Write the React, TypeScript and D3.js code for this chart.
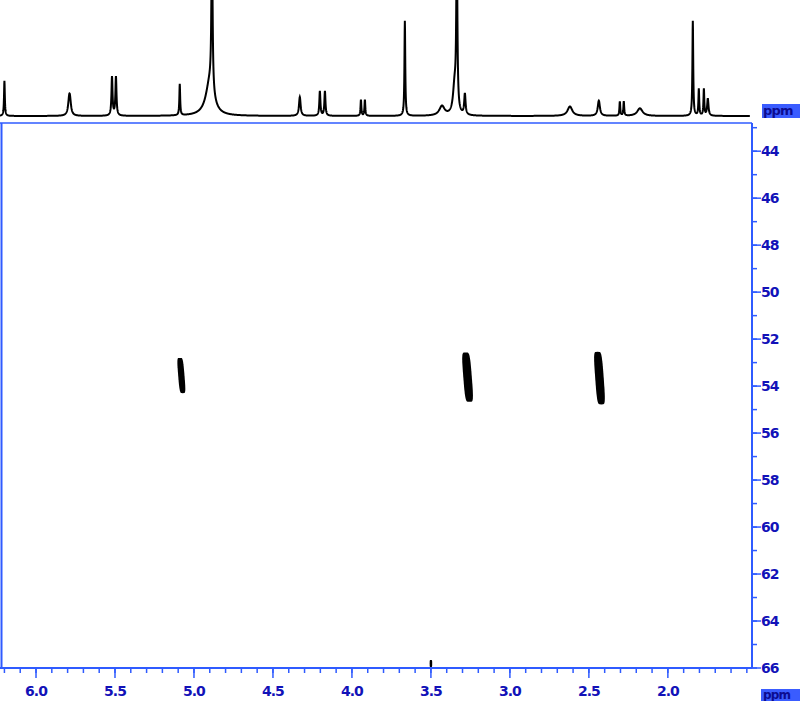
import React, { useMemo } from "react";
import * as d3 from "d3";

// 1D proton projection: peak positions (ppm), heights (relative), half-widths (ppm)
const PEAK_PPM = [6.2, 5.79, 5.785, 5.519, 5.494, 5.09, 4.886, 4.9, 4.33, 4.203, 4.171, 3.943, 3.918, 3.665, 3.43, 3.336, 3.35, 3.285, 2.62, 2.437, 2.304, 2.279, 2.177, 1.842, 1.804, 1.772, 1.747];
const PEAK_HEIGHT = [0.37, 0.14, 0.12, 0.41, 0.41, 0.33, 1.8, 0.35, 0.2, 0.26, 0.26, 0.17, 0.17, 1.0, 0.1, 1.8, 0.3, 0.22, 0.1, 0.16, 0.15, 0.15, 0.08, 1.0, 0.28, 0.28, 0.18];
const PEAK_WIDTH = [0.003, 0.008, 0.008, 0.004, 0.004, 0.003, 0.004, 0.03, 0.006, 0.004, 0.004, 0.003, 0.003, 0.003, 0.02, 0.004, 0.012, 0.005, 0.018, 0.008, 0.003, 0.003, 0.02, 0.003, 0.003, 0.003, 0.005];

// 2D cross peaks: 1H shift, 13C shift, half extents (ppm)
const CROSS_H = [5.08, 3.268, 2.433, 3.5];
const CROSS_C = [53.55, 53.62, 53.66, 65.81];
const CROSS_DH = [0.02, 0.027, 0.027, 0.008];
const CROSS_DC = [0.75, 1.05, 1.12, 0.15];

const X_TICK_LABELS = ["6.0", "5.5", "5.0", "4.5", "4.0", "3.5", "3.0", "2.5", "2.0"];
const Y_TICK_LABELS = ["44", "46", "48", "50", "52", "54", "56", "58", "60", "62", "64", "66"];

const W = 800;
const H = 701;
const AXIS_BLUE = "#2f5bff";
const TEXT_BLUE = "#1212b8";

export default function App() {
  const x = d3.scaleLinear().domain([6.228, 1.48]).range([0, 750]);
  const y = d3.scaleLinear().domain([42.8, 66]).range([123, 668]);
  const yi = d3.scaleLinear().domain([0, 1]).range([116, 21]);

  const spectrum = useMemo(() => {
    const pts: [number, number][] = [];
    for (let p = 6.228; p >= 1.48; p -= 0.001) {
      let v = 0;
      for (let i = 0; i < PEAK_PPM.length; i++) {
        const d = p - PEAK_PPM[i];
        const w = PEAK_WIDTH[i];
        v += (PEAK_HEIGHT[i] * w * w) / (d * d + w * w);
      }
      pts.push([p, v]);
    }
    return pts;
  }, []);

  const line = d3
    .line<[number, number]>()
    .x((d) => x(d[0]))
    .y((d) => yi(d[1]));

  const crossPaths = CROSS_H.map((h, i) => {
    const cx = x(h);
    const cy = y(CROSS_C[i]);
    const rx = Math.abs(x(h + CROSS_DH[i]) - cx);
    const ry = Math.abs(y(CROSS_C[i] + CROSS_DC[i]) - cy);
    const skew = i === 3 ? 0 : rx * 0.45;
    const pts: [number, number][] = [];
    for (let k = 0; k < 64; k++) {
      const t = (k / 64) * Math.PI * 2;
      const c = Math.cos(t);
      const s = Math.sin(t);
      const cc = Math.sign(c) * Math.pow(Math.abs(c), 0.35);
      const ss = Math.sign(s) * Math.pow(Math.abs(s), 0.6);
      pts.push([cx + rx * cc + skew * ss, cy + ry * ss]);
    }
    return d3.line().curve(d3.curveLinearClosed)(pts) as string;
  });

  const xMajor = X_TICK_LABELS.map((l) => +l);
  const xMinor = d3.range(62, 14, -1).map((v) => v / 10);
  const yMajor = Y_TICK_LABELS.map((l) => +l);
  const yMinor = d3.range(43, 67, 1);

  const font = "'DejaVu Sans', sans-serif";

  return (
    <svg
      width={W}
      height={H}
      style={{ position: "absolute", left: 0, top: 0, background: "#fff" }}
      viewBox={`0 0 ${W} ${H}`}
    >
      <rect x={0} y={0} width={W} height={H} fill="#fff" />
      {/* 1D projection */}
      <path d={line(spectrum) as string} fill="none" stroke="#000" strokeWidth={2} />

      {/* cross peaks */}
      {crossPaths.map((d, i) => (
        <path key={i} d={d} fill="#000" />
      ))}

      {/* frame */}
      <line x1={1.5} x2={1.5} y1={123} y2={668} stroke={AXIS_BLUE} strokeWidth={2} />
      <line x1={0} x2={752} y1={123} y2={123} stroke={AXIS_BLUE} strokeWidth={1.5} />
      <line x1={0} x2={752} y1={668} y2={668} stroke={AXIS_BLUE} strokeWidth={2} />
      <line x1={752} x2={752} y1={123} y2={668} stroke={AXIS_BLUE} strokeWidth={2} />

      {/* bottom axis ticks */}
      {xMinor.map((v) => (
        <line key={"xm" + v} x1={x(v)} x2={x(v)} y1={668} y2={673} stroke={AXIS_BLUE} strokeWidth={1.5} />
      ))}
      {xMajor.map((v, i) => (
        <g key={"xM" + v}>
          <line x1={x(v)} x2={x(v)} y1={668} y2={678} stroke={AXIS_BLUE} strokeWidth={1.5} />
          <text
            x={x(v)}
            y={696}
            textAnchor="middle"
            fontFamily={font}
            fontWeight="bold"
            fontSize={14}
            letterSpacing={-1}
            fill={TEXT_BLUE}
          >
            {X_TICK_LABELS[i]}
          </text>
        </g>
      ))}

      {/* right axis ticks */}
      {yMinor.map((v) => (
        <line key={"ym" + v} x1={752} x2={757} y1={y(v)} y2={y(v)} stroke={AXIS_BLUE} strokeWidth={1.5} />
      ))}
      {yMajor.map((v, i) => (
        <g key={"yM" + v}>
          <line x1={752} x2={761} y1={y(v)} y2={y(v)} stroke={AXIS_BLUE} strokeWidth={1.5} />
          <text
            x={761}
            y={y(v) + 5}
            textAnchor="start"
            fontFamily={font}
            fontWeight="bold"
            fontSize={14}
            letterSpacing={-1}
            fill={TEXT_BLUE}
          >
            {Y_TICK_LABELS[i]}
          </text>
        </g>
      ))}

      {/* ppm labels */}
      <rect x={762} y={104} width={38} height={14} fill="#3a5cff" />
      <text x={763} y={115} fontFamily={font} fontWeight="bold" fontSize={13} letterSpacing={-0.8} fill="#0c0c90">
        ppm
      </text>
      <rect x={761} y={689} width={39} height={12} fill="#3a5cff" />
      <text x={763} y={699} fontFamily={font} fontWeight="bold" fontSize={12} letterSpacing={-0.8} fill="#0c0c90">
        ppm
      </text>
    </svg>
  );
}
